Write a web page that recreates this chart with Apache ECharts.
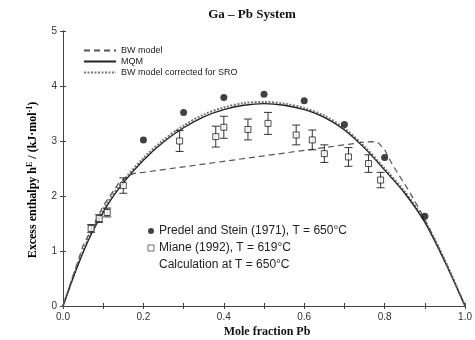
<!DOCTYPE html>
<html>
<head>
<meta charset="utf-8">
<script src="https://cdn.jsdelivr.net/npm/echarts@6/dist/echarts.min.js"></script>
<style>
html,body{margin:0;padding:0;background:#fff;}
#chart{width:475px;height:340px;}
</style>
</head>
<body>
<div id="chart"></div>
<script>
// ---- data ----
var xTicks = [0, 0.2, 0.4, 0.6, 0.8, 1.0];
var yTicks = [0, 1, 2, 3, 4, 5];

var mqmX = [0, 0.035, 0.07, 0.11, 0.15, 0.2, 0.25, 0.3, 0.35, 0.4, 0.45, 0.5, 0.55, 0.6, 0.65, 0.7, 0.75, 0.8, 0.85, 0.9, 0.95, 1.0];
var mqmY = [0, 0.70, 1.30, 1.83, 2.24, 2.65, 2.98, 3.24, 3.44, 3.57, 3.65, 3.68, 3.65, 3.57, 3.43, 3.20, 2.87, 2.47, 2.05, 1.52, 0.80, 0];

var sroX = [0, 0.035, 0.07, 0.11, 0.15, 0.2, 0.25, 0.3, 0.35, 0.4, 0.45, 0.5, 0.55, 0.6, 0.65, 0.7, 0.75, 0.8, 0.85, 0.9, 0.95, 1.0];
var sroY = [0, 0.73, 1.34, 1.87, 2.28, 2.69, 3.02, 3.28, 3.48, 3.61, 3.69, 3.71, 3.68, 3.60, 3.46, 3.23, 2.90, 2.50, 2.08, 1.55, 0.83, 0];

var bwX = [0, 0.05, 0.1, 0.14, 0.165, 0.18, 0.2, 0.3, 0.4, 0.5, 0.6, 0.7, 0.75, 0.77, 0.785, 0.8, 0.82, 0.86, 0.9, 0.95, 1.0];
var bwY = [0, 1.1, 1.82, 2.25, 2.38, 2.415, 2.43, 2.53, 2.63, 2.73, 2.83, 2.93, 2.98, 2.99, 2.96, 2.84, 2.56, 2.10, 1.58, 0.82, 0];

var predelX = [0.2, 0.3, 0.4, 0.5, 0.6, 0.7, 0.8, 0.9];
var predelY = [3.02, 3.52, 3.79, 3.85, 3.73, 3.3, 2.7, 1.63];

var mianeX = [0.07, 0.09, 0.11, 0.15, 0.29, 0.38, 0.40, 0.46, 0.51, 0.58, 0.62, 0.65, 0.71, 0.76, 0.79];
var mianeY = [1.41, 1.59, 1.70, 2.19, 3.0, 3.08, 3.25, 3.21, 3.32, 3.11, 3.02, 2.77, 2.71, 2.59, 2.29];
var mianeErr = [0.07, 0.07, 0.08, 0.14, 0.19, 0.19, 0.2, 0.19, 0.2, 0.18, 0.18, 0.16, 0.17, 0.16, 0.14];

var legendLines = ['BW model', 'MQM', 'BW model corrected for SRO'];
var legendPoints = ['Predel and Stein (1971), T = 650°C', 'Miane (1992), T = 619°C', 'Calculation at T = 650°C'];

function zip(a, b) { return a.map(function (v, i) { return [v, b[i]]; }); }
function zip3(a, b, c) { return a.map(function (v, i) { return [v, b[i], c[i]]; }); }

var SANS = '"Liberation Sans", Arial, sans-serif';
var SERIF = '"Liberation Serif", "Times New Roman", serif';
var AX = '#444';

var chart = echarts.init(document.getElementById('chart'), null, {renderer: 'canvas'});

var baseX = {
  type: 'value', min: 0, max: 1, interval: 0.1,
  axisLine: {show: true, lineStyle: {color: AX, width: 1}},
  axisTick: {show: true, inside: true, length: 3, lineStyle: {color: AX}},
  splitLine: {show: false}
};
var baseY = {
  type: 'value', min: 0, max: 5, interval: 1,
  axisLine: {show: true, lineStyle: {color: AX, width: 1}},
  axisTick: {show: true, inside: true, length: 3, lineStyle: {color: AX}},
  splitLine: {show: false}
};

var option = {
  animation: false,
  backgroundColor: '#fff',
  color: ['#222'],
  grid: {left: 63, right: 6, top: 31, bottom: 34, containLabel: false},
  xAxis: [
    Object.assign({}, baseX, {
      position: 'bottom',
      axisLabel: {
        show: true, margin: 6, fontSize: 10, color: '#333', fontFamily: SANS,
        formatter: function (v) {
          for (var i = 0; i < xTicks.length; i++) {
            if (Math.abs(v - xTicks[i]) < 1e-6) return xTicks[i].toFixed(1);
          }
          return '';
        }
      }
    }),
    Object.assign({}, baseX, {position: 'top', axisLabel: {show: false}})
  ],
  yAxis: [
    Object.assign({}, baseY, {
      position: 'left',
      axisLabel: {
        show: true, margin: 6, fontSize: 10, color: '#333', fontFamily: SANS,
        formatter: function (v) { return yTicks.indexOf(v) >= 0 ? String(v) : ''; }
      }
    }),
    Object.assign({}, baseY, {position: 'right', axisLabel: {show: false}})
  ],
  legend: [
    {
      data: legendLines, orient: 'vertical', left: 78, top: 41,
      itemWidth: 32, itemHeight: 9, itemGap: 2, selectedMode: false,
      itemStyle: {opacity: 0},
      textStyle: {fontSize: 9, color: '#222', fontFamily: SANS}
    },
    {
      data: [
        {name: legendPoints[0], icon: 'circle'},
        {name: legendPoints[1], icon: 'rect', itemStyle: {borderWidth: 0.8}},
        {name: legendPoints[2]}
      ],
      orient: 'vertical', left: 142, top: 220,
      itemWidth: 6, itemHeight: 6, itemGap: 5, selectedMode: false,
      textStyle: {fontSize: 12, color: '#222', fontFamily: SANS}
    }
  ],
  graphic: [
    {type: 'text', x: 252, y: 15,
     style: {text: 'Ga – Pb System', font: 'bold 13px ' + SERIF, fill: '#111', textAlign: 'center', textVerticalAlign: 'middle'}},
    {type: 'text', x: 267, y: 332,
     style: {text: 'Mole fraction Pb', font: 'bold 12px ' + SERIF, fill: '#111', textAlign: 'center', textVerticalAlign: 'middle'}},
    {type: 'text', x: 33, y: 180, rotation: Math.PI / 2,
     style: {
       text: '{a|Excess enthalpy h}{s|E}{a| / (kJ·mol}{s|-1}{a|)}',
       textAlign: 'center', textVerticalAlign: 'middle',
       rich: {
         a: {fontFamily: SERIF, fontWeight: 'bold', fontSize: 12, color: '#111'},
         s: {fontFamily: SERIF, fontWeight: 'bold', fontSize: 8, color: '#111', padding: [0, 0, 6, 0]}
       }
     }}
  ],
  series: [
    {
      name: legendLines[2], type: 'line', xAxisIndex: 0, yAxisIndex: 0,
      data: zip(sroX, sroY), symbol: 'none', smooth: 0.3,
      itemStyle: {color: '#777'},
      lineStyle: {color: '#777', width: 2, type: [2, 1.5]}, z: 2
    },
    {
      name: legendLines[1], type: 'line', xAxisIndex: 0, yAxisIndex: 0,
      data: zip(mqmX, mqmY), symbol: 'none', smooth: 0.3,
      itemStyle: {color: '#222'},
      lineStyle: {color: '#222', width: 1.3}, z: 3
    },
    {
      name: legendLines[0], type: 'line', xAxisIndex: 0, yAxisIndex: 0,
      data: zip(bwX, bwY), symbol: 'none', smooth: false,
      itemStyle: {color: '#555'},
      lineStyle: {color: '#555', width: 1.2, type: [6, 4]}, z: 3
    },
    {
      name: 'errbars', type: 'custom', xAxisIndex: 0, yAxisIndex: 0,
      data: zip3(mianeX, mianeY, mianeErr), z: 4,
      renderItem: function (params, api) {
        var x = api.value(0), y = api.value(1), e = api.value(2);
        var t = api.coord([x, y + e]), b = api.coord([x, y - e]);
        var hw = 4;
        var st = {stroke: '#333', lineWidth: 1};
        return {type: 'group', children: [
          {type: 'line', shape: {x1: t[0], y1: t[1], x2: b[0], y2: b[1]}, style: st},
          {type: 'line', shape: {x1: t[0] - hw, y1: t[1], x2: t[0] + hw, y2: t[1]}, style: st},
          {type: 'line', shape: {x1: b[0] - hw, y1: b[1], x2: b[0] + hw, y2: b[1]}, style: st}
        ]};
      }
    },
    {
      name: legendPoints[1], type: 'scatter', xAxisIndex: 0, yAxisIndex: 0,
      data: zip(mianeX, mianeY), symbol: 'rect', symbolSize: 6,
      itemStyle: {color: '#fff', borderColor: '#222', borderWidth: 1}, z: 5
    },
    {
      name: legendPoints[0], type: 'scatter', xAxisIndex: 0, yAxisIndex: 0,
      data: zip(predelX, predelY), symbol: 'circle', symbolSize: 7,
      itemStyle: {color: '#111'}, z: 5
    },
    {
      name: legendPoints[2], type: 'line', xAxisIndex: 0, yAxisIndex: 0,
      data: [], symbol: 'none', lineStyle: {opacity: 0}, itemStyle: {opacity: 0}
    }
  ]
};
chart.setOption(option);
</script>
</body>
</html>
